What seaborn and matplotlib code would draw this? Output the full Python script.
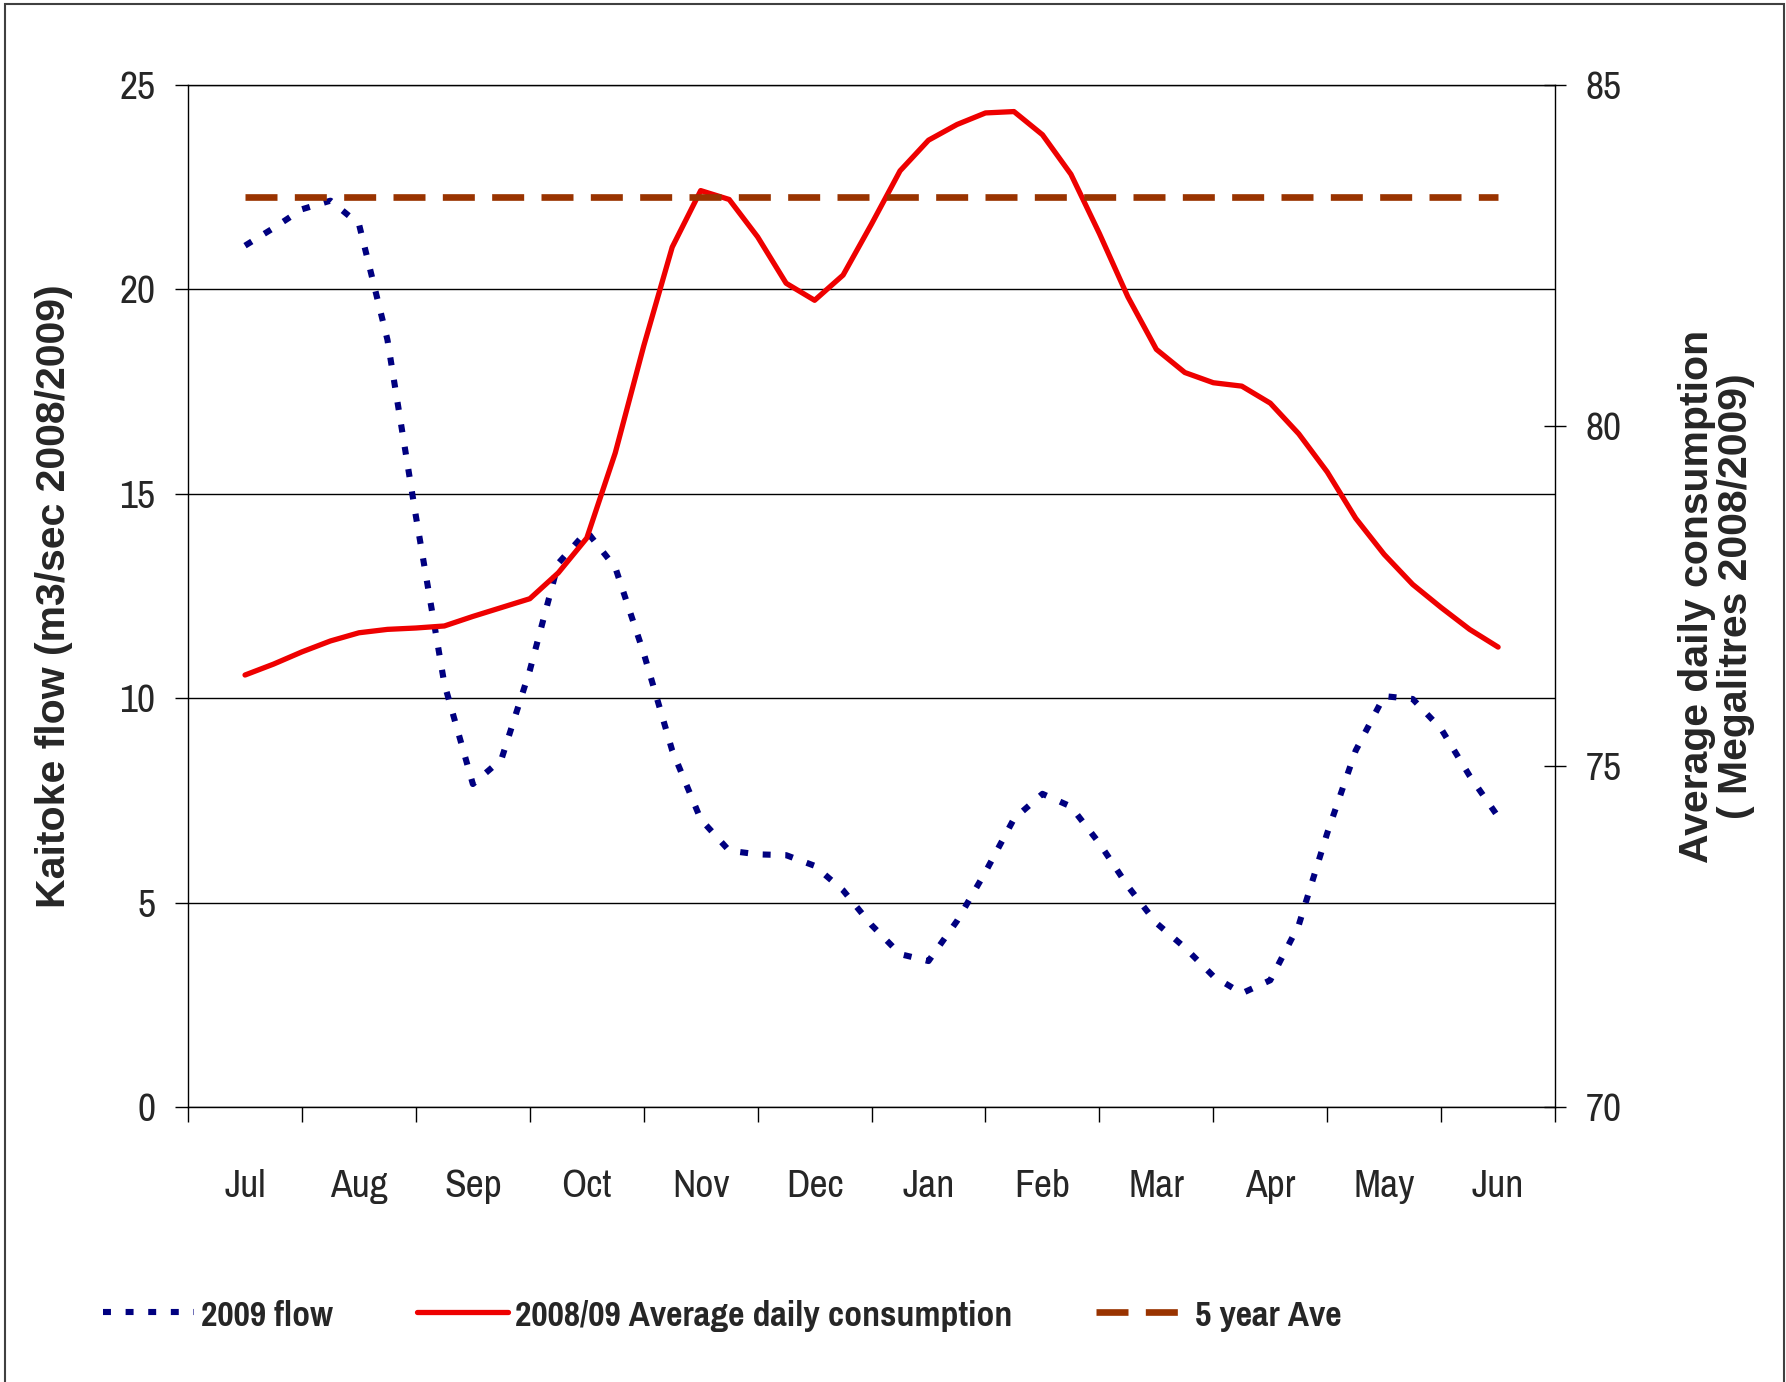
import numpy as np
import matplotlib
matplotlib.use('Agg')
import matplotlib.pyplot as plt
from matplotlib.patches import Rectangle
from matplotlib.ticker import FixedLocator, NullFormatter, FixedFormatter
import seaborn as sns

sns.set_style('ticks')
narrow = ['Pragati Narrow', 'Liberation Sans', 'DejaVu Sans']
plt.rcParams['font.family'] = narrow

months = ['Jul', 'Aug', 'Sep', 'Oct', 'Nov', 'Dec',
          'Jan', 'Feb', 'Mar', 'Apr', 'May', 'Jun']
steps_per_month = 4  # values every quarter month

# Kaitoke flow, m3/sec (left axis)
flow_2009 = [21.07, 21.5, 21.96, 22.17, 21.6, 18.77, 14.45, 10.35,
             7.9, 8.5, 10.68, 13.3, 14.08, 13.2, 11.1, 8.72,
             7.04, 6.27, 6.18, 6.16, 5.9, 5.3, 4.45, 3.74,
             3.57, 4.55, 5.75, 7.05, 7.66, 7.35, 6.45, 5.4,
             4.5, 3.9, 3.2, 2.78, 3.1, 4.45, 6.7, 8.72,
             10.05, 9.98, 9.25, 8.1, 7.1]

# Average daily consumption, megalitres (right axis)
consumption = [76.34, 76.5, 76.68, 76.84, 76.96, 77.01, 77.03, 77.06,
               77.2, 77.33, 77.46, 77.84, 78.35, 79.6, 81.17, 82.62,
               83.45, 83.32, 82.77, 82.09, 81.84, 82.21, 82.96, 83.74,
               84.19, 84.42, 84.59, 84.61, 84.27, 83.69, 82.82, 81.89,
               81.12, 80.78, 80.63, 80.58, 80.33, 79.88, 79.32, 78.64,
               78.11, 77.67, 77.33, 77.01, 76.75]

five_year_ave = 83.35

x_flow = np.arange(len(flow_2009)) / steps_per_month
x_cons = np.arange(len(consumption)) / steps_per_month
x_ave = [0, len(months) - 1]

fig = plt.figure(figsize=(17.86, 13.82), dpi=100)
ax = fig.add_axes([0.1053, 0.199, 0.7654, 0.7395])
ax2 = ax.twinx()

sns.lineplot(x=x_flow, y=flow_2009, ax=ax, color='#000080', lw=4.4,
             linestyle=(0, (1.3, 2.4)), dash_capstyle='butt')
sns.lineplot(x=x_cons, y=consumption, ax=ax2, color='#ee0000', lw=3.8)
sns.lineplot(x=x_ave, y=[five_year_ave, five_year_ave], ax=ax2,
             color='#993300', lw=4.8, linestyle=(0, (4.8, 2.6)),
             dash_capstyle='butt')

# x axis: ticks on month boundaries, labels in between
ax.set_xlim(-0.5, 11.5)
ax.xaxis.set_major_locator(FixedLocator(np.arange(-0.5, 12, 1)))
ax.xaxis.set_major_formatter(NullFormatter())
ax.xaxis.set_minor_locator(FixedLocator(np.arange(12)))
ax.xaxis.set_minor_formatter(FixedFormatter(months))
ax.tick_params(axis='x', which='major', direction='out', length=10.8,
               width=1, color='black')
ax.tick_params(axis='x', which='minor', length=0, pad=45, labelsize=31)

ax.set_ylim(0, 25)
ax.set_yticks(range(0, 26, 5))
ax.tick_params(axis='y', direction='out', length=9.5, width=1,
               color='black', pad=14, labelsize=31)
ax.yaxis.grid(True, color='black', lw=1.0)

ax2.set_ylim(70, 85)
ax2.set_yticks([70, 75, 80, 85])
ax2.tick_params(axis='y', direction='inout', length=16.5, width=1,
                color='black', pad=14, labelsize=31)

for sp in ax.spines.values():
    sp.set_color('black')
    sp.set_linewidth(1.0)
ax.spines['right'].set_visible(False)
for name, sp in ax2.spines.items():
    sp.set_visible(name == 'right')
    sp.set_color('black')
    sp.set_linewidth(1.0)

ax.set_xlabel('')
lab_font = ['Liberation Sans', 'DejaVu Sans']
ax.set_ylabel('Kaitoke flow (m3/sec 2008/2009)', fontsize=29.5,
              fontweight='bold', family=lab_font, va='center', ha='center')
ax.yaxis.set_label_coords(-0.098, 0.5)
ax2.set_ylabel('Average daily consumption\n( Megalitres 2008/2009)',
               fontsize=29.5, fontweight='bold', family=lab_font,
               va='center', ha='center', linespacing=1.05)
ax2.yaxis.set_label_coords(1.118, 0.5)

handles = [ax.lines[0], ax2.lines[0], ax2.lines[1]]
labels = ['2009 flow', '2008/09 Average daily consumption', '5 year Ave']
fig.legend(handles, labels, loc='center left', bbox_to_anchor=(0.0577, 0.0485),
           ncol=3, frameon=False, borderpad=0, borderaxespad=0,
           handlelength=2.35, handletextpad=0.18, columnspacing=2.15,
           prop={'family': narrow, 'weight': 'bold', 'size': 28})

fig.patches.append(Rectangle((0.0028, -0.01), 0.9961, 1.0071,
                             transform=fig.transFigure, fill=False,
                             edgecolor='#404040', lw=1.5))

fig.savefig('out.png', dpi=100, facecolor='white')
